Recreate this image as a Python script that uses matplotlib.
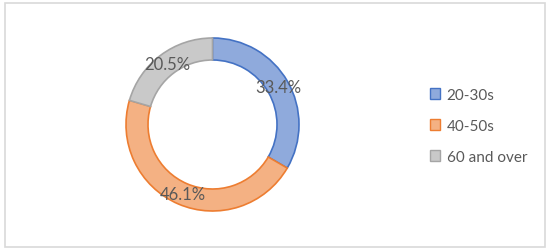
import matplotlib
matplotlib.use("Agg")
import matplotlib.pyplot as plt
import numpy as np
from matplotlib.patches import Rectangle

categories = ["20-30s", "40-50s", "60 and over"]
values = [33.4, 46.1, 20.5]
labels = ["33.4%", "46.1%", "20.5%"]

fill_colors = ["#8FAADC", "#F4B183", "#C9C9C9"]
edge_colors = ["#4472C4", "#ED7D31", "#A5A5A5"]

plt.rcParams['font.family'] = ['Lato', 'DejaVu Sans']

W, H = 550, 253
fig = plt.figure(figsize=(W / 100, H / 100), dpi=100)
fig.patch.set_facecolor("white")

# outer border
fig.add_artist(Rectangle((4.5 / W, (H - 247.5) / H), 540 / W, 244 / H,
                         transform=fig.transFigure, fill=False,
                         edgecolor="#D9D9D9", linewidth=1.2))

cx, cy, r_out = 212.5, 125.5, 86.5
ax = fig.add_axes([(cx - r_out) / W, (H - cy - r_out) / H, 2 * r_out / W, 2 * r_out / H])
ring = 22 / 86.5
wedges, _ = ax.pie(values, colors=fill_colors, startangle=90, counterclock=False,
                   radius=1.0, wedgeprops=dict(width=ring, linewidth=1.2))
for w, ec in zip(wedges, edge_colors):
    w.set_edgecolor(ec)

# labels at mid ring
rmid = 1 - ring / 2
start = 90.0
total = sum(values)
for v, lab in zip(values, labels):
    span = v / total * 360
    mid = np.deg2rad(start - span / 2)
    ax.text(rmid * np.cos(mid), rmid * np.sin(mid), lab, ha="center", va="center",
            fontsize=12, color="#595959")
    start -= span
ax.set_xlim(-1, 1)
ax.set_ylim(-1, 1)
ax.set_aspect("equal")
ax.axis("off")

# legend
handles = [Rectangle((0, 0), 1, 1, facecolor=fc, edgecolor=ec, linewidth=1)
           for fc, ec in zip(fill_colors, edge_colors)]
leg = fig.legend(handles, categories, loc="upper left",
                 bbox_to_anchor=(416 / W, (H - 75) / H), frameon=False,
                 fontsize=11, handlelength=0.7, handleheight=0.7,
                 handletextpad=0.4, labelspacing=1.12, labelcolor="#595959")

fig.savefig("out.png", dpi=100, facecolor="white")
